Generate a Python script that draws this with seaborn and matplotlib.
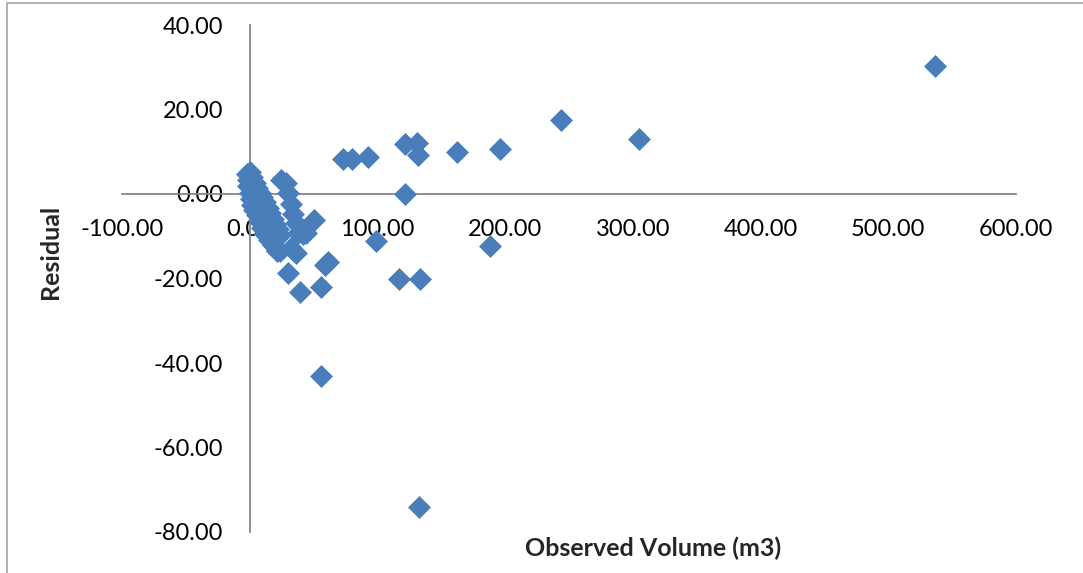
import pandas as pd
import matplotlib.pyplot as plt
import seaborn as sns
from matplotlib.patches import Rectangle
from matplotlib.ticker import FormatStrFormatter

# Observed volume (m3) and residuals
observed = [
    # dense band near the origin
    0.0, 2.0, 4.0, 6.0, 8.0, 10.0, 12.0, 14.0, 16.0, 18.0, 20.0, 22.0, 24.0,
    -2.0, -1.5, -1.0, 0.0, 1.0, 2.0, 3.5, 5.5, 7.5, 9.5, 12.0, 15.0, 18.0, 21.0, 23.5,
    3.0, 5.0, 7.0, 9.0, 11.0, 13.0, 15.0, 17.0, 19.0,
    # scattered points
    24.5, 28.5, 30.0, 32.6, 33.7, 36.5, 44.4, 37.8, 41.5, 32.6, 21.0, 36.0,
    50.1, 58.7, 61.5, 30.0, 56.1, 39.0,
    72.8, 79.9, 92.4, 121.4, 130.8, 131.6, 162.1, 195.8, 243.5, 304.6, 536.4,
    121.4, 98.7, 188.0, 116.7, 133.0, 55.6, 132.3,
]
residual = [
    5.2, 4.0, 2.6, 1.4, 0.3, -0.8, -2.0, -3.2, -4.5, -5.8, -7.0, -8.3, -9.6,
    4.8, 3.2, 1.8, 0.3, -1.2, -2.6, -3.8, -5.0, -6.5, -8.0, -9.5, -10.8, -12.0, -13.2, -13.5,
    1.0, -0.5, -2.0, -3.5, -4.8, -6.0, -7.3, -8.5, -10.0,
    3.3, 2.6, 0.3, -2.4, -4.8, -6.8, -9.2, -9.2, -9.5, -12.8, -13.5, -14.0,
    -6.2, -16.7, -16.0, -18.7, -21.9, -23.3,
    8.3, 8.3, 8.7, 11.9, 12.1, 9.3, 10.0, 10.7, 17.6, 13.1, 30.4,
    0.0, -11.2, -12.4, -20.0, -20.0, -43.0, -74.0,
]

x_ticks = [-100, 0, 100, 200, 300, 400, 500, 600]
y_ticks = [-80, -60, -40, -20, 0, 20, 40]

df = pd.DataFrame({'observed': observed, 'residual': residual})

sns.set_style('white')
plt.rcParams['font.family'] = ['Lato', 'DejaVu Sans']

fig = plt.figure(figsize=(10.83, 5.73), dpi=100)
ax = fig.add_axes([122 / 1083, 1 - 532 / 573, (1016 - 122) / 1083, (532 - 25) / 573])

sns.scatterplot(data=df, x='observed', y='residual', marker='D', s=125,
                color='#4A7EBB', edgecolor='#4A7EBB', linewidth=0.5, ax=ax, zorder=3)

ax.set_xlim(-100, 600)
ax.set_ylim(-80, 40)
ax.set_xticks(x_ticks)
ax.set_yticks(y_ticks)
ax.xaxis.set_major_formatter(FormatStrFormatter('%.2f'))
ax.yaxis.set_major_formatter(FormatStrFormatter('%.2f'))

ax.spines['left'].set_position(('data', 0))
ax.spines['bottom'].set_position(('data', 0))
ax.spines['top'].set_visible(False)
ax.spines['right'].set_visible(False)
for side in ['left', 'bottom']:
    ax.spines[side].set_color('#868686')
    ax.spines[side].set_linewidth(1.3)
    ax.spines[side].set_zorder(2)

ax.tick_params(axis='both', which='major', direction='out', colors='#868686',
               labelcolor='black', labelsize=17)
ax.tick_params(axis='y', length=7, width=1.3, pad=12)
ax.tick_params(axis='x', length=5, width=1.3, pad=13)

ax.set_xlabel('')
ax.set_ylabel('')
fig.text(653 / 1083, 1 - 548 / 573, 'Observed Volume (m3)', ha='center', va='center',
         fontsize=18, fontweight='bold')
fig.text(50 / 1083, 1 - 252 / 573, 'Residual', ha='center', va='center',
         rotation=90, fontsize=18, fontweight='bold')

# chart area frame
fig.patches.append(Rectangle((7 / 1083, -0.1), 1.2, 1.1 - 3 / 573, transform=fig.transFigure,
                             fill=False, edgecolor='#A6A6A6', linewidth=1.2))

fig.savefig('out.png', dpi=100)
plt.close(fig)
